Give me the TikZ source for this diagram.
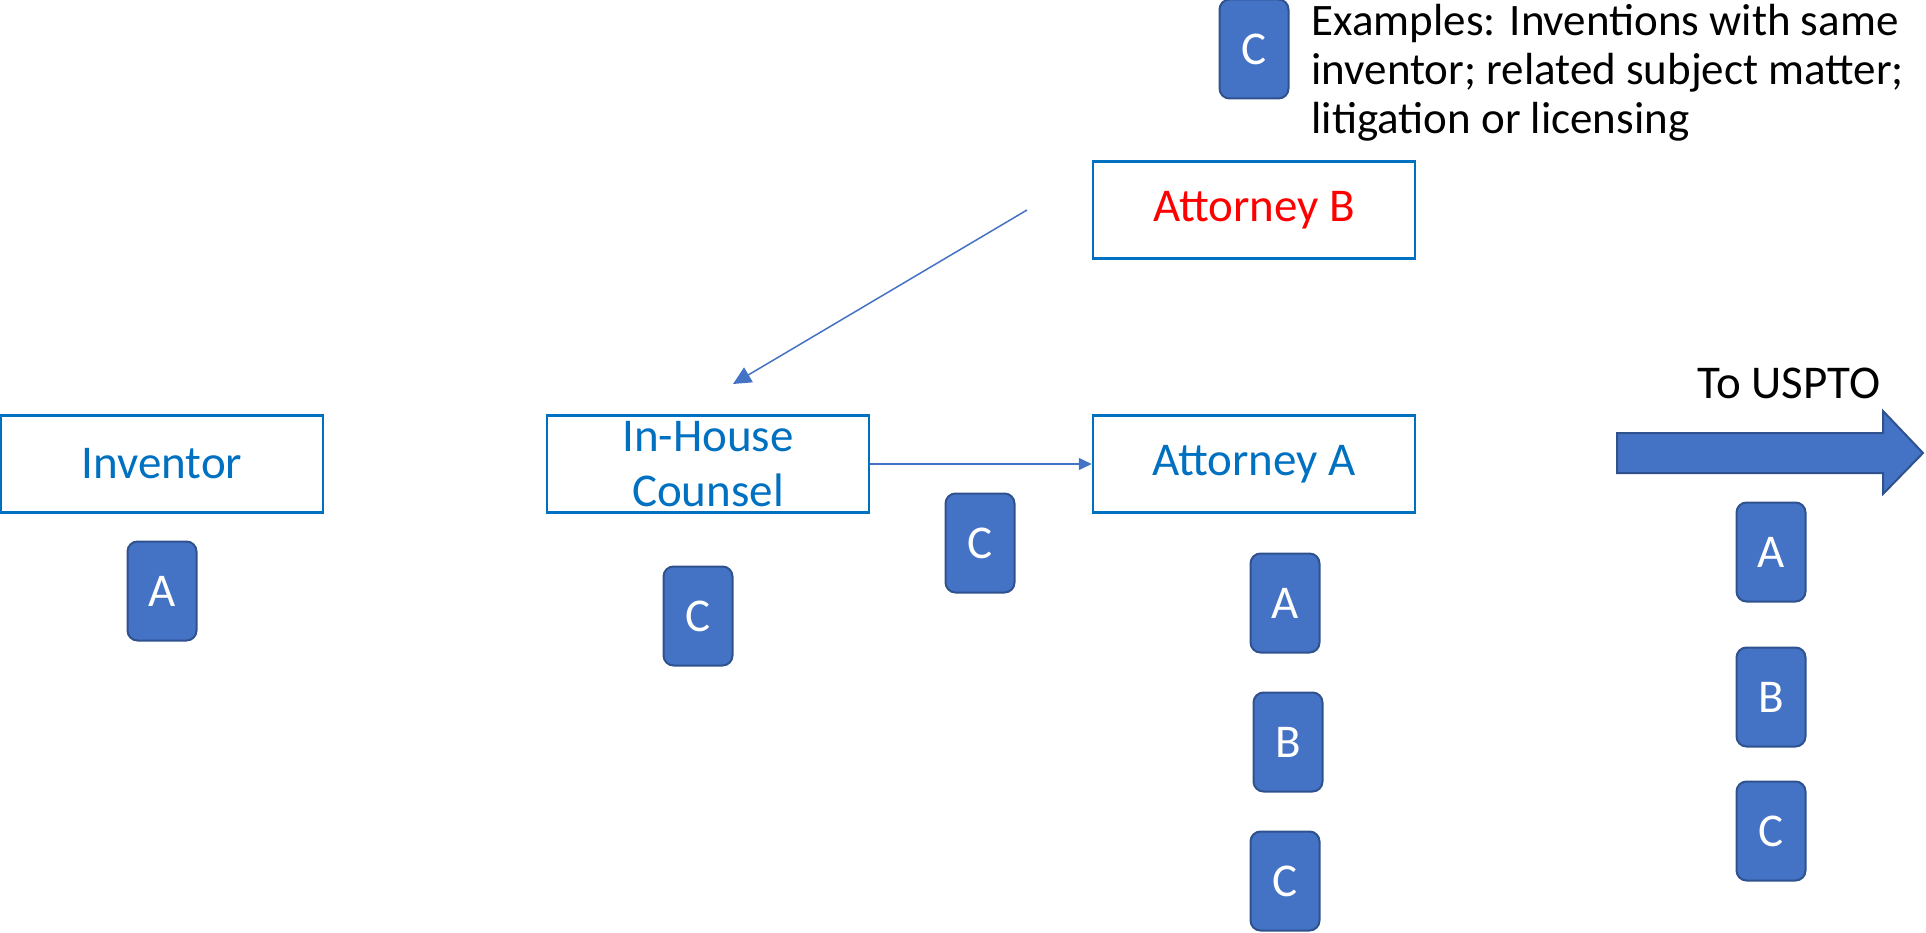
\documentclass[tikz,border=0pt]{standalone}
\usepackage{fontspec}
\setmainfont{Carlito}
\usepackage{tikz}
\usetikzlibrary{arrows.meta,positioning}
\definecolor{boxblue}{HTML}{0070C0}
\definecolor{chipfill}{HTML}{4472C4}
\definecolor{chipedge}{HTML}{2F528F}
\definecolor{attred}{HTML}{FF0000}

\begin{document}
\begin{tikzpicture}[x=1pt, y=-1pt,
  party/.style={draw=boxblue, line width=2.5pt, minimum width=322pt, minimum height=97pt, inner sep=0pt, text=boxblue, align=center, font=\fontsize{47}{55}\selectfont},
  chip/.style={draw=chipedge, line width=2pt, fill=chipfill, rounded corners=10pt, minimum width=69pt, minimum height=99pt, inner sep=0pt, text=white, font=\fontsize{47}{55}\selectfont},
  link/.style={draw=chipfill, line width=1.5pt}]
  \useasboundingbox (0,0) rectangle (1926,933);
  \node[party] (inv) at (162,464) {Inventor}; \node[party] (ihc) at (708,464) {In-House\\Counsel};
  \node[party] (atta) at (1254,464) {Attorney A}; \node[party, text=attred] (attb) at (1254,210) {Attorney B};
  \node[chip] (invA) at (162,591) {A}; \node[chip] (ihcC) at (698,616) {C}; \node[chip] (midC) at (980,543) {C};
  \node[chip] (attaA) at (1285,603) {A}; \node[chip] (attaB) at (1288,742) {B}; \node[chip] (attaC) at (1285,881) {C};
  \node[chip] (ptoA) at (1771,552) {A}; \node[chip] (ptoB) at (1771,697) {B}; \node[chip] (ptoC) at (1771,831) {C};
  \node[chip] (keyC) at (1254,49) {C};
  \node[anchor=base west, align=left, font=\fontsize{45}{49}\selectfont] (note) at (1308,134) {Examples:\hspace{14pt}Inventions with same\\inventor; related subject matter;\\litigation or licensing};
  \node[anchor=base, font=\fontsize{47}{55}\selectfont] (pto) at (1789,398) {To USPTO};
  \coordinate (bfrom) at (1027,210); \coordinate (bto) at (733,384);
  \draw[link, -{Triangle[length=18pt,width=17pt]}] (bfrom) -- (bto);
  \draw[link, -{Triangle[length=13pt,width=12pt]}] (ihc) -- (atta);
  \draw[fill=chipfill, draw=chipedge, line width=2pt] (1617,433) -- (1883,433) -- (1883,411) -- (1923,453) -- (1883,494) -- (1883,473) -- (1617,473) -- cycle;
\end{tikzpicture}
\end{document}
